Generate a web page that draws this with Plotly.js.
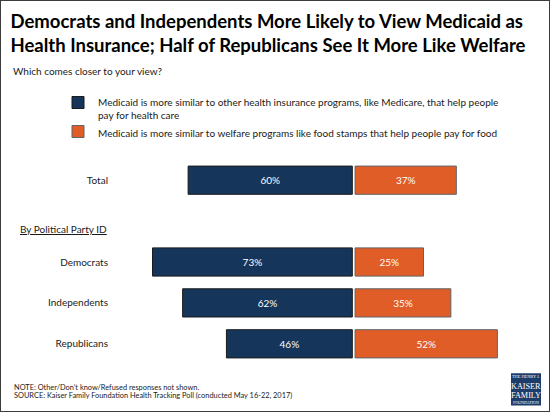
<!DOCTYPE html>
<html>
<head>
<meta charset="utf-8">
<script src="https://cdn.plot.ly/plotly-3.0.1.min.js"></script>
<style>
  html, body { margin: 0; padding: 0; background: #fff; }
  #wrap { position: relative; width: 550px; height: 412px; }
  #chart { position: absolute; left: 0; top: 0; width: 550px; height: 412px; }
  #frame { position: absolute; left: 0; top: 0; width: 550px; height: 412px; box-sizing: border-box;
           border: 1.5px solid #3c3c3c; pointer-events: none; }
</style>
</head>
<body>
<div id="wrap"><div id="chart"></div><div id="frame"></div></div>
<script>
// ---- data ----
const categories = ['Total', 'Democrats', 'Independents', 'Republicans'];
const rowPositions = [0, 2, 3, 4];           // row slots on the y axis (slot 1 holds the section header)
const healthInsurance = [60, 73, 62, 46];    // "more similar to health insurance programs"
const welfare = [37, 25, 35, 52];            // "more similar to welfare programs"
const seriesNames = [
  'Medicaid is more similar to other health insurance programs, like Medicare, that help people<br>pay for health care',
  'Medicaid is more similar to welfare programs like food stamps that help people pay for food'
];
const titleText = 'Democrats and Independents More Likely to View Medicaid as<br>Health Insurance; Half of Republicans See It More Like Welfare';
const subtitleText = 'Which comes closer to your view?';
const sectionLabel = 'By Political Party ID';
const noteText = 'NOTE: Other/Don\u2019t know/Refused responses not shown.';
const sourceText = 'SOURCE: Kaiser Family Foundation Health Tracking Poll (conducted May 16-22, 2017)';
const logoLines = ['THE HENRY J.', 'KAISER', 'FAMILY', 'FOUNDATION'];

// ---- styles / layout ----
const W = 550, H = 412;
const M = { l: 109, r: 20, t: 60, b: 40 };
const plotW = W - M.l - M.r, plotH = H - M.t - M.b;
const px2x = px => (px - M.l) / plotW;
const py2y = py => (H - M.b - py) / plotH;
const FONT = "Lato, 'Liberation Sans', sans-serif";
const FS = 10;
const BLUE = '#15355a', ORANGE = '#e05d28';

const traces = [
  {
    type: 'bar', orientation: 'h', name: seriesNames[0],
    y: rowPositions, x: healthInsurance.map(v => -v), base: -0.5,
    text: healthInsurance.map(v => v + '%'),
    textposition: 'inside', insidetextanchor: 'middle', textangle: 0,
    insidetextfont: { family: FONT, size: FS, color: '#ffffff' },
    marker: { color: BLUE, line: { color: '#1b1b1b', width: 1 } },
    width: 0.69, legendgroup: 'a', hoverinfo: 'skip'
  },
  {
    type: 'bar', orientation: 'h', name: seriesNames[1],
    y: rowPositions, x: welfare, base: 0.5,
    text: welfare.map(v => v + '%'),
    textposition: 'inside', insidetextanchor: 'middle', textangle: 0,
    insidetextfont: { family: FONT, size: FS, color: '#ffffff' },
    marker: { color: ORANGE, line: { color: '#5f6468', width: 1 } },
    width: 0.69, legendgroup: 'b', hoverinfo: 'skip'
  }
];

const annotations = [
  { text: subtitleText, xref: 'paper', yref: 'paper', x: px2x(11), y: py2y(70.5),
    xanchor: 'left', yanchor: 'middle', showarrow: false,
    font: { family: FONT, size: FS, color: '#1a1a1a' } },
  { text: '<u>' + sectionLabel + '</u>', xref: 'paper', yref: 'paper', x: px2x(17.5), y: py2y(228.5),
    xanchor: 'left', yanchor: 'middle', showarrow: false,
    font: { family: FONT, size: FS, color: '#1a1a1a' } },
  { text: noteText, xref: 'paper', yref: 'paper', x: px2x(11.5), y: py2y(387.3),
    xanchor: 'left', yanchor: 'middle', showarrow: false,
    font: { family: FONT, size: 7.4, color: '#1a1a1a' } },
  { text: sourceText, xref: 'paper', yref: 'paper', x: px2x(11.5), y: py2y(395.5),
    xanchor: 'left', yanchor: 'middle', showarrow: false,
    font: { family: FONT, size: 7.4, color: '#1a1a1a' } }
];
const logoY = [376.8, 386.2, 395.2, 402.6];
const logoSize = [4.3, 8.2, 8.2, 4.0];
logoLines.forEach((t, i) => annotations.push({
  text: t, xref: 'paper', yref: 'paper', x: px2x(526), y: py2y(logoY[i]),
  xanchor: 'center', yanchor: 'middle', showarrow: false,
  font: { family: "'Liberation Serif', 'DejaVu Serif', serif", size: logoSize[i], color: '#ffffff' }
}));

const layout = {
  width: W, height: H, margin: M,
  paper_bgcolor: '#ffffff', plot_bgcolor: '#ffffff',
  font: { family: FONT, size: FS, color: '#1a1a1a' },
  title: {
    text: '<b>' + titleText + '</b>',
    xref: 'container', yref: 'container', x: 10.5 / W, xanchor: 'left',
    y: 1 - 28 / H, yanchor: 'top',
    font: { family: FONT, size: 18.5, color: '#000000' }
  },
  barmode: 'overlay',
  xaxis: {
    range: [-(353.7 - M.l) / 2.737, (W - M.r - 353.7) / 2.737],
    visible: false, fixedrange: true, zeroline: false, showgrid: false
  },
  yaxis: {
    range: [(H - M.b - 180.2) / 40.9, (M.t - 180.2) / 40.9],
    tickmode: 'array', tickvals: rowPositions, ticktext: categories,
    showgrid: false, zeroline: false, showline: false, ticks: '',
    tickfont: { family: FONT, size: FS, color: '#1a1a1a' }, fixedrange: true
  },
  showlegend: true,
  legend: {
    x: px2x(58), xanchor: 'left', y: py2y(89.5), yanchor: 'top',
    orientation: 'v', valign: 'top', tracegroupgap: 10.5,
    font: { family: FONT, size: FS, color: '#1a1a1a' },
    bgcolor: 'rgba(0,0,0,0)', borderwidth: 0, traceorder: 'normal'
  },
  shapes: [
    { type: 'rect', xref: 'paper', yref: 'paper', x0: px2x(511), x1: px2x(541), y0: py2y(405.5), y1: py2y(373.3),
      fillcolor: '#1e3c6a', line: { width: 0 }, layer: 'above' }
  ],
  annotations: annotations,
  hovermode: false
};

Plotly.newPlot('chart', traces, layout, { staticPlot: true, displayModeBar: false });
</script>
</body>
</html>
